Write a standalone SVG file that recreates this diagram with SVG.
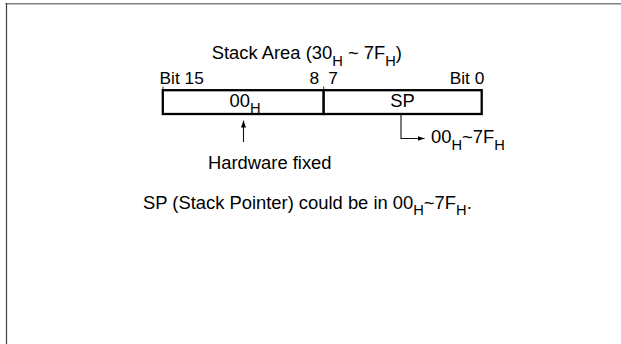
<svg xmlns="http://www.w3.org/2000/svg" width="621" height="344" viewBox="0 0 621 344">
  <style>
    text { font-family: "Liberation Sans", Arial, sans-serif; font-size: 17.5px; fill: #000; }
    .sm { font-size: 16.5px; }
    .sub { font-size: 14px; }
    .box { fill: #fff; stroke: #000; stroke-width: 2.3; }
    .conn { fill: none; stroke: #111; stroke-width: 1.1; }
    .tick { stroke: #333; stroke-width: 1; }
  </style>
  <defs>
    <marker id="arrow" viewBox="0 0 7 5" refX="7" refY="2.5" markerWidth="7" markerHeight="5" markerUnits="userSpaceOnUse" orient="auto">
      <path d="M0,0 L7,2.5 L0,5 Z" fill="#000"/>
    </marker>
  </defs>
  <rect x="0" y="0" width="621" height="344" fill="#fff"/>
  <g id="frame">
    <line x1="5.5" y1="3.7" x2="621" y2="3.7" stroke="#808080" stroke-width="1.4"/>
    <line x1="6.5" y1="3" x2="6.5" y2="344" stroke="#404040" stroke-width="1.2"/>
  </g>
  <g id="title">
    <text transform="translate(211.7,59) scale(1.05,1)">Stack Area (30<tspan class="sub" dy="6.5">H</tspan><tspan dy="-6.5"> ~ 7F</tspan><tspan class="sub" dy="6.5">H</tspan><tspan dy="-6.5">)</tspan></text>
  </g>
  <g id="bit-labels">
    <text class="sm" transform="translate(159.5,83.5) scale(1.05,1)">Bit 15</text>
    <text class="sm" transform="translate(309.5,83.5) scale(1.05,1)">8<tspan dx="4"> 7</tspan></text>
    <text class="sm" text-anchor="end" transform="translate(484.3,83.5) scale(1.05,1)">Bit 0</text>
  </g>
  <g id="register">
    <line class="tick" x1="163" y1="86.5" x2="163" y2="90"/>
    <line class="tick" x1="323.7" y1="86.5" x2="323.7" y2="90"/>
    <g id="high-byte">
      <rect class="box" x="162.8" y="90.2" width="160.9" height="23.8"/>
      <text text-anchor="middle" transform="translate(245,107) scale(1.05,1)">00<tspan class="sub" dy="6">H</tspan></text>
    </g>
    <g id="low-byte">
      <rect class="box" x="323.7" y="90.2" width="158" height="23.8"/>
      <text text-anchor="middle" transform="translate(402.5,107) scale(1.05,1)">SP</text>
    </g>
  </g>
  <g id="hardware-fixed">
    <text transform="translate(208,168.5) scale(1.05,1)">Hardware fixed</text>
  </g>
  <g id="sp-range">
    <text transform="translate(431,143) scale(1.05,1)">00<tspan class="sub" dy="6.5">H</tspan><tspan dy="-6.5">~7F</tspan><tspan class="sub" dy="6.5">H</tspan></text>
  </g>
  <g id="note">
    <text transform="translate(143,208.5) scale(1.05,1)">SP (Stack Pointer) could be in 00<tspan class="sub" dy="6.5">H</tspan><tspan dy="-6.5">~7F</tspan><tspan class="sub" dy="6.5">H</tspan><tspan dy="-6.5">.</tspan></text>
  </g>
  <g id="connectors">
    <path class="conn" d="M243.5,142 V120.5" marker-end="url(#arrow)"/>
    <path class="conn" d="M401,115 V138.5 H424.5" marker-end="url(#arrow)"/>
  </g>
</svg>
